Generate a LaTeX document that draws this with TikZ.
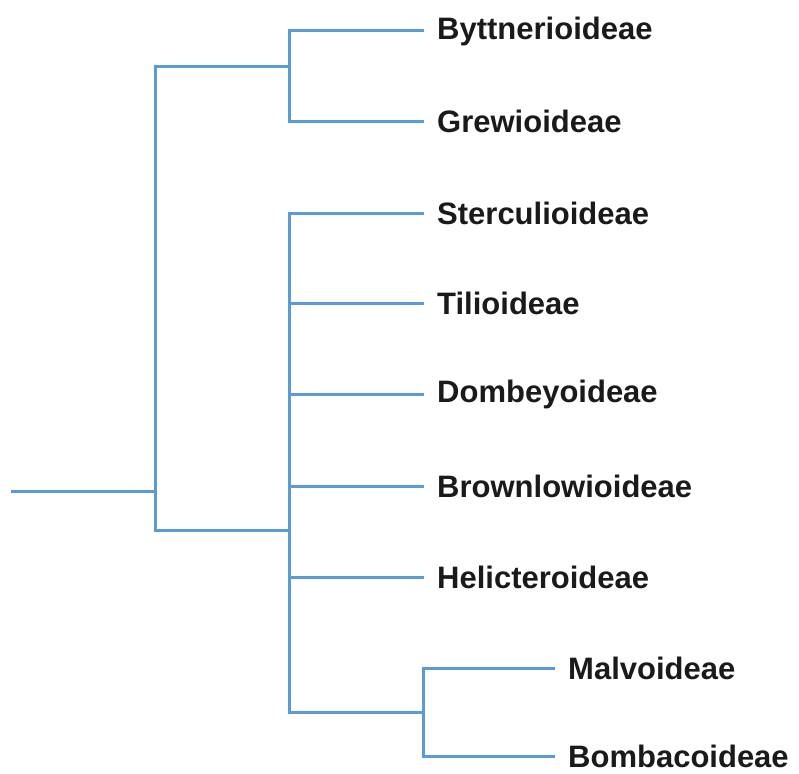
\documentclass[tikz,border=0pt]{standalone}
\usepackage{fontspec}
\setmainfont{Liberation Sans}
\definecolor{branch}{RGB}{91,155,213}
\definecolor{labeltext}{RGB}{26,26,26}
\begin{document}
\begin{tikzpicture}[x=1pt,y=-1pt,
  edge/.style={draw=branch,line width=3pt,line cap=rect},
  taxon/.style={anchor=west,inner xsep=15pt,inner ysep=0pt,text=labeltext,
    font=\fontsize{31}{37}\selectfont\bfseries}]
\useasboundingbox (0,0) rectangle (799,773);
% internal coordinates
\coordinate (start) at (12,491);
\coordinate (root) at (155,491);
\coordinate (A) at (289,67);
\coordinate (B) at (289,530);
\coordinate (C) at (423,712);
% leaves
\node[taxon] (byt) at (422,31) {Byttnerioideae};
\node[taxon] (gre) at (422,121) {Grewioideae};
\node[taxon] (ste) at (422,213) {Sterculioideae};
\node[taxon] (til) at (422,303) {Tilioideae};
\node[taxon] (dom) at (422,394) {Dombeyoideae};
\node[taxon] (bro) at (422,486) {Brownlowioideae};
\node[taxon] (hel) at (422,577) {Helicteroideae};
\node[taxon] (mal) at (553,668) {Malvoideae};
\node[taxon] (bom) at (553,756) {Bombacoideae};
% connectors
\draw[edge] (start) -- (root);
\draw[edge] (A) -| (root) |- (B);
\draw[edge] (byt.west) -| (A) |- (gre.west);
\draw[edge] (ste.west) -| (B) |- (C);
\draw[edge] (B |- til.west) -- (til.west);
\draw[edge] (B |- dom.west) -- (dom.west);
\draw[edge] (B |- bro.west) -- (bro.west);
\draw[edge] (B |- hel.west) -- (hel.west);
\draw[edge] (mal.west) -| (C) |- (bom.west);
\end{tikzpicture}
\end{document}
